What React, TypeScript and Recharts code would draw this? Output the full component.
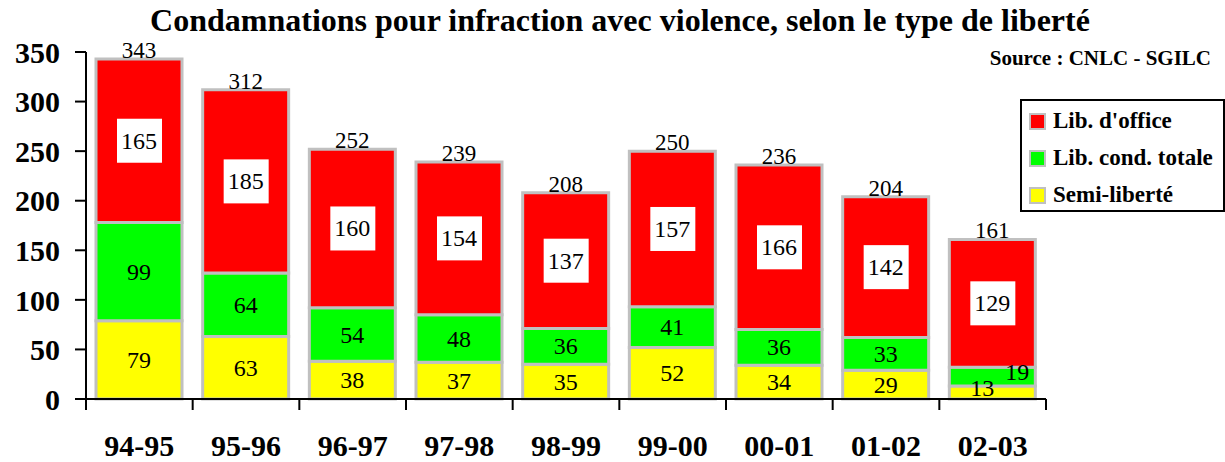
import React from "react";
import { BarChart, Bar, XAxis, YAxis, LabelList, Legend } from "recharts";

const categories = ["94-95", "95-96", "96-97", "97-98", "98-99", "99-00", "00-01", "01-02", "02-03"];
const semiLiberte = [79, 63, 38, 37, 35, 52, 34, 29, 13];
const libCondTotale = [99, 64, 54, 48, 36, 41, 36, 33, 19];
const libOffice = [165, 185, 160, 154, 137, 157, 166, 142, 129];
const totals = [343, 312, 252, 239, 208, 250, 236, 204, 161];
const yTicks = [0, 50, 100, 150, 200, 250, 300, 350];

const SERIES = [
  { key: "semi", name: "Semi-liberté", color: "#ffff00" },
  { key: "cond", name: "Lib. cond. totale", color: "#00ff00" },
  { key: "office", name: "Lib. d'office", color: "#ff0000" },
];

const data = categories.map((cat, i) => ({
  cat,
  semi: semiLiberte[i],
  cond: libCondTotale[i],
  office: libOffice[i],
  total: totals[i],
}));

const FONT = "'Liberation Serif', 'Times New Roman', serif";
const W = 1225;
const H = 462;
const PLOT_LEFT = 86;
const PLOT_RIGHT = 1046;
const BAND = (PLOT_RIGHT - PLOT_LEFT) / categories.length;

// plain label centred in a segment; tiny segments get nudged aside
const segmentLabel = (key: string) => (props: any) => {
  const { x, y, width, height, value } = props;
  let dx = 0;
  let dy = 0;
  if (height < 22) {
    dx = key === "semi" ? -10 : 25;
    dy = -5;
  }
  return (
    <text
      x={x + width / 2 + dx}
      y={y + height / 2 + dy}
      textAnchor="middle"
      dominantBaseline="central"
      fontFamily={FONT}
      fontSize={24}
      fill="#000"
    >
      {value}
    </text>
  );
};

const boxedLabel = (props: any) => {
  const { x, y, width, height, value } = props;
  const cx = x + width / 2;
  const cy = y + height / 2;
  return (
    <g>
      <rect x={cx - 22} y={cy - 22} width={45} height={44} fill="#fff" />
      <text
        x={cx}
        y={cy}
        textAnchor="middle"
        dominantBaseline="central"
        fontFamily={FONT}
        fontSize={24}
        fill="#000"
      >
        {value}
      </text>
    </g>
  );
};

const totalLabel = (props: any) => {
  const { x, y, width, value } = props;
  return (
    <text x={x + width / 2} y={y - 1} textAnchor="middle" fontFamily={FONT} fontSize={23} fill="#000">
      {value}
    </text>
  );
};

const CategoryTick = (props: any) => {
  const { x, y, payload, index } = props;
  return (
    <g>
      <line x1={x - BAND / 2} x2={x - BAND / 2} y1={y} y2={y + 11} stroke="#000" strokeWidth={2} />
      {index === categories.length - 1 && (
        <line x1={x + BAND / 2} x2={x + BAND / 2} y1={y} y2={y + 11} stroke="#000" strokeWidth={2} />
      )}
      <text x={x} y={y + 57} textAnchor="middle" fontFamily={FONT} fontSize={30} fontWeight="bold" fill="#000">
        {payload.value}
      </text>
    </g>
  );
};

const LegendBox = () => (
  <div
    style={{
      position: "absolute",
      left: 1020,
      top: 99,
      width: 205,
      height: 113,
      border: "2px solid #000",
      boxSizing: "border-box",
      background: "#fff",
      fontFamily: FONT,
      fontWeight: "bold",
      fontSize: 23,
    }}
  >
    {[...SERIES].reverse().map((s, i) => (
      <div key={s.key} style={{ position: "absolute", left: 7, top: 7 + i * 37, height: 26, display: "flex", alignItems: "center" }}>
        <span
          style={{
            display: "inline-block",
            width: 13,
            height: 13,
            background: s.color,
            border: "2px solid #c0c0c0",
            marginRight: 7,
          }}
        />
        <span style={{ whiteSpace: "nowrap" }}>{s.name}</span>
      </div>
    ))}
  </div>
);

export default function App() {
  return (
    <div style={{ position: "absolute", left: 0, top: 0, width: W, height: H, background: "#fff" }}>
      <div
        style={{
          position: "absolute",
          left: 0,
          top: 2,
          width: 1240,
          textAlign: "center",
          fontFamily: FONT,
          fontWeight: "bold",
          fontSize: 32,
          lineHeight: "36px",
          whiteSpace: "nowrap",
        }}
      >
        Condamnations pour infraction avec violence, selon le type de liberté
      </div>
      <div
        style={{
          position: "absolute",
          right: 14,
          top: 46,
          fontFamily: FONT,
          fontWeight: "bold",
          fontSize: 21,
          lineHeight: "24px",
          whiteSpace: "nowrap",
        }}
      >
        Source : CNLC - SGILC
      </div>
      <BarChart
        width={W}
        height={H}
        data={data}
        margin={{ top: 52, right: W - PLOT_RIGHT, left: 0, bottom: 13 }}
        barSize={86}
      >
        <XAxis
          dataKey="cat"
          height={50}
          tickSize={0}
          tickMargin={0}
          axisLine={{ stroke: "#000", strokeWidth: 2 }}
          tick={<CategoryTick />}
          interval={0}
        />
        <YAxis
          width={PLOT_LEFT}
          domain={[0, 350]}
          ticks={yTicks}
          interval={0}
          tickSize={11}
          tickMargin={15}
          axisLine={{ stroke: "#000", strokeWidth: 2 }}
          tickLine={{ stroke: "#000", strokeWidth: 2 }}
          tick={{ fontFamily: FONT, fontSize: 30, fontWeight: "bold", fill: "#000" }}
        />
        {SERIES.map((s) => (
          <Bar
            key={s.key}
            dataKey={s.key}
            name={s.name}
            stackId="a"
            fill={s.color}
            stroke="#c0c0c0"
            strokeWidth={3}
            isAnimationActive={false}
          >
            <LabelList dataKey={s.key} content={s.key === "office" ? boxedLabel : segmentLabel(s.key)} />
            {s.key === "office" && <LabelList dataKey="total" content={totalLabel} />}
          </Bar>
        ))}
        <Legend content={() => null} />
      </BarChart>
      <LegendBox />
    </div>
  );
}
